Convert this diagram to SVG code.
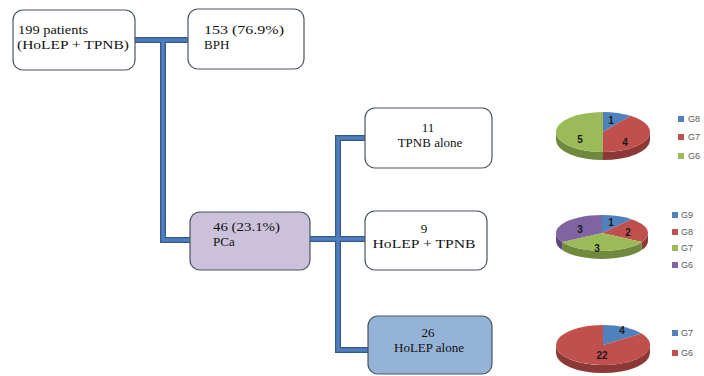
<svg xmlns="http://www.w3.org/2000/svg" width="704" height="376" viewBox="0 0 704 376">
<style>
.box{stroke:#4a5560;stroke-width:1.2}
.t{font-family:"Liberation Serif",serif;font-size:13px;fill:#111111}
.c{text-anchor:middle}
.co{fill:none;stroke:#34598a;stroke-width:6}
.ci{fill:none;stroke:#4f7fbf;stroke-width:3.5}
.pl{font-family:"Liberation Sans",sans-serif;font-size:10px;font-weight:bold;fill:#1a1a1a;text-anchor:middle}
.lg{font-family:"Liberation Sans",sans-serif;font-size:9px;fill:#595959}
.b{fill:#4f81bd}.bs{fill:#385d8a}
.r{fill:#c0504d}.rs{fill:#8c3836}
.g{fill:#9bbb59}.gs{fill:#71893f}
.p{fill:#8064a2}.ps{fill:#5c4776}
</style>
<rect width="704" height="376" fill="#ffffff"/>
<g id="connectors">
<path class="co" d="M135,40 H188 M163,40 V240 H190 M310,239 H338 M366,138 H338 V350 H368 M338,239 H365"/>
<path class="ci" d="M135,40 H188 M163,40 V240 H190 M310,239 H338 M366,138 H338 V350 H368 M338,239 H365"/>
</g>
<g id="n-patients">
<rect class="box" x="13" y="10" width="122" height="60" rx="10" fill="#ffffff"/>
<text class="t" x="18" y="34" textLength="70" lengthAdjust="spacingAndGlyphs">199 patients</text>
<text class="t" x="17" y="49" textLength="112" lengthAdjust="spacingAndGlyphs">(HoLEP + TPNB)</text>
</g>
<g id="n-bph">
<rect class="box" x="188" y="9" width="116" height="60" rx="10" fill="#ffffff"/>
<text class="t" x="204" y="34" textLength="80" lengthAdjust="spacingAndGlyphs">153 (76.9%)</text>
<text class="t" x="204" y="49">BPH</text>
</g>
<g id="n-pca">
<rect class="box" x="190" y="212" width="120" height="58" rx="10" fill="#ccc1da"/>
<text class="t" x="213" y="231" textLength="67" lengthAdjust="spacingAndGlyphs">46 (23.1%)</text>
<text class="t" x="213" y="246">PCa</text>
</g>
<g id="n-tpnb">
<rect class="box" x="365" y="108" width="127" height="60" rx="10" fill="#ffffff"/>
<text class="t c" x="428" y="132">11</text>
<text class="t c" x="430" y="147">TPNB alone</text>
</g>
<g id="n-holep-tpnb">
<rect class="box" x="365" y="211" width="122" height="59" rx="10" fill="#ffffff"/>
<text class="t c" x="424" y="233">9</text>
<text class="t c" x="424" y="248" textLength="103" lengthAdjust="spacingAndGlyphs">HoLEP + TPNB</text>
</g>
<g id="n-holep">
<rect class="box" x="368" y="316" width="124" height="58" rx="10" fill="#95b3d7"/>
<text class="t c" x="428" y="337">26</text>
<text class="t c" x="429" y="352">HoLEP alone</text>
</g>
<g id="pie1">
<path class="rs" d="M650,132 A47,20 0 0 1 603,152 L603,160 A47,20 0 0 0 650,140 Z"/>
<path class="gs" d="M603,152 A47,20 0 0 1 556,132 L556,140 A47,20 0 0 0 603,160 Z"/>
<path class="b" d="M603,132 L603,112 A47,20 0 0 1 630.6,115.8 Z"/>
<path class="r" d="M603,132 L630.6,115.8 A47,20 0 0 1 603,152 Z"/>
<path class="g" d="M603,132 L603,152 A47,20 0 0 1 603,112 Z"/>
<text class="pl" x="611" y="124">1</text>
<text class="pl" x="625" y="146">4</text>
<text class="pl" x="580" y="143">5</text>
<rect class="b" x="678" y="116" width="6" height="6"/><text class="lg" x="688" y="122">G8</text>
<rect class="r" x="678" y="134" width="6" height="6"/><text class="lg" x="688" y="140">G7</text>
<rect class="g" x="678" y="153" width="6" height="6"/><text class="lg" x="688" y="159">G6</text>
</g>
<g id="pie2">
<path class="rs" d="M648,233 A46,18 0 0 1 641.8,242 L641.8,250 A46,18 0 0 0 648,241 Z"/>
<path class="gs" d="M641.8,242 A46,18 0 0 1 562.2,242 L562.2,250 A46,18 0 0 0 641.8,250 Z"/>
<path class="ps" d="M562.2,242 A46,18 0 0 1 556,233 L556,241 A46,18 0 0 0 562.2,250 Z"/>
<path class="b" d="M602,233 L602,215 A46,18 0 0 1 631.6,219.2 Z"/>
<path class="r" d="M602,233 L631.6,219.2 A46,18 0 0 1 641.8,242 Z"/>
<path class="g" d="M602,233 L641.8,242 A46,18 0 0 1 562.2,242 Z"/>
<path class="p" d="M602,233 L562.2,242 A46,18 0 0 1 602,215 Z"/>
<text class="pl" x="611" y="226">1</text>
<text class="pl" x="628" y="236">2</text>
<text class="pl" x="597" y="252">3</text>
<text class="pl" x="580" y="233">3</text>
<rect class="b" x="672" y="212" width="6" height="6"/><text class="lg" x="681" y="218">G9</text>
<rect class="r" x="672" y="229" width="6" height="6"/><text class="lg" x="681" y="235">G8</text>
<rect class="g" x="672" y="245" width="6" height="6"/><text class="lg" x="681" y="251">G7</text>
<rect class="p" x="672" y="262" width="6" height="6"/><text class="lg" x="681" y="268">G6</text>
</g>
<g id="pie3">
<path class="rs" d="M650,345 A47,20 0 0 1 556,345 L556,353 A47,20 0 0 0 650,353 Z"/>
<path class="b" d="M603,345 L603,325 A47,20 0 0 1 641.7,333.6 Z"/>
<path class="r" d="M603,345 L641.7,333.6 A47,20 0 1 1 603,325 Z"/>
<text class="pl" x="622" y="334">4</text>
<text class="pl" x="602" y="359">22</text>
<rect class="b" x="672" y="330" width="6" height="6"/><text class="lg" x="681" y="336">G7</text>
<rect class="r" x="672" y="350" width="6" height="6"/><text class="lg" x="681" y="356">G6</text>
</g>
</svg>
